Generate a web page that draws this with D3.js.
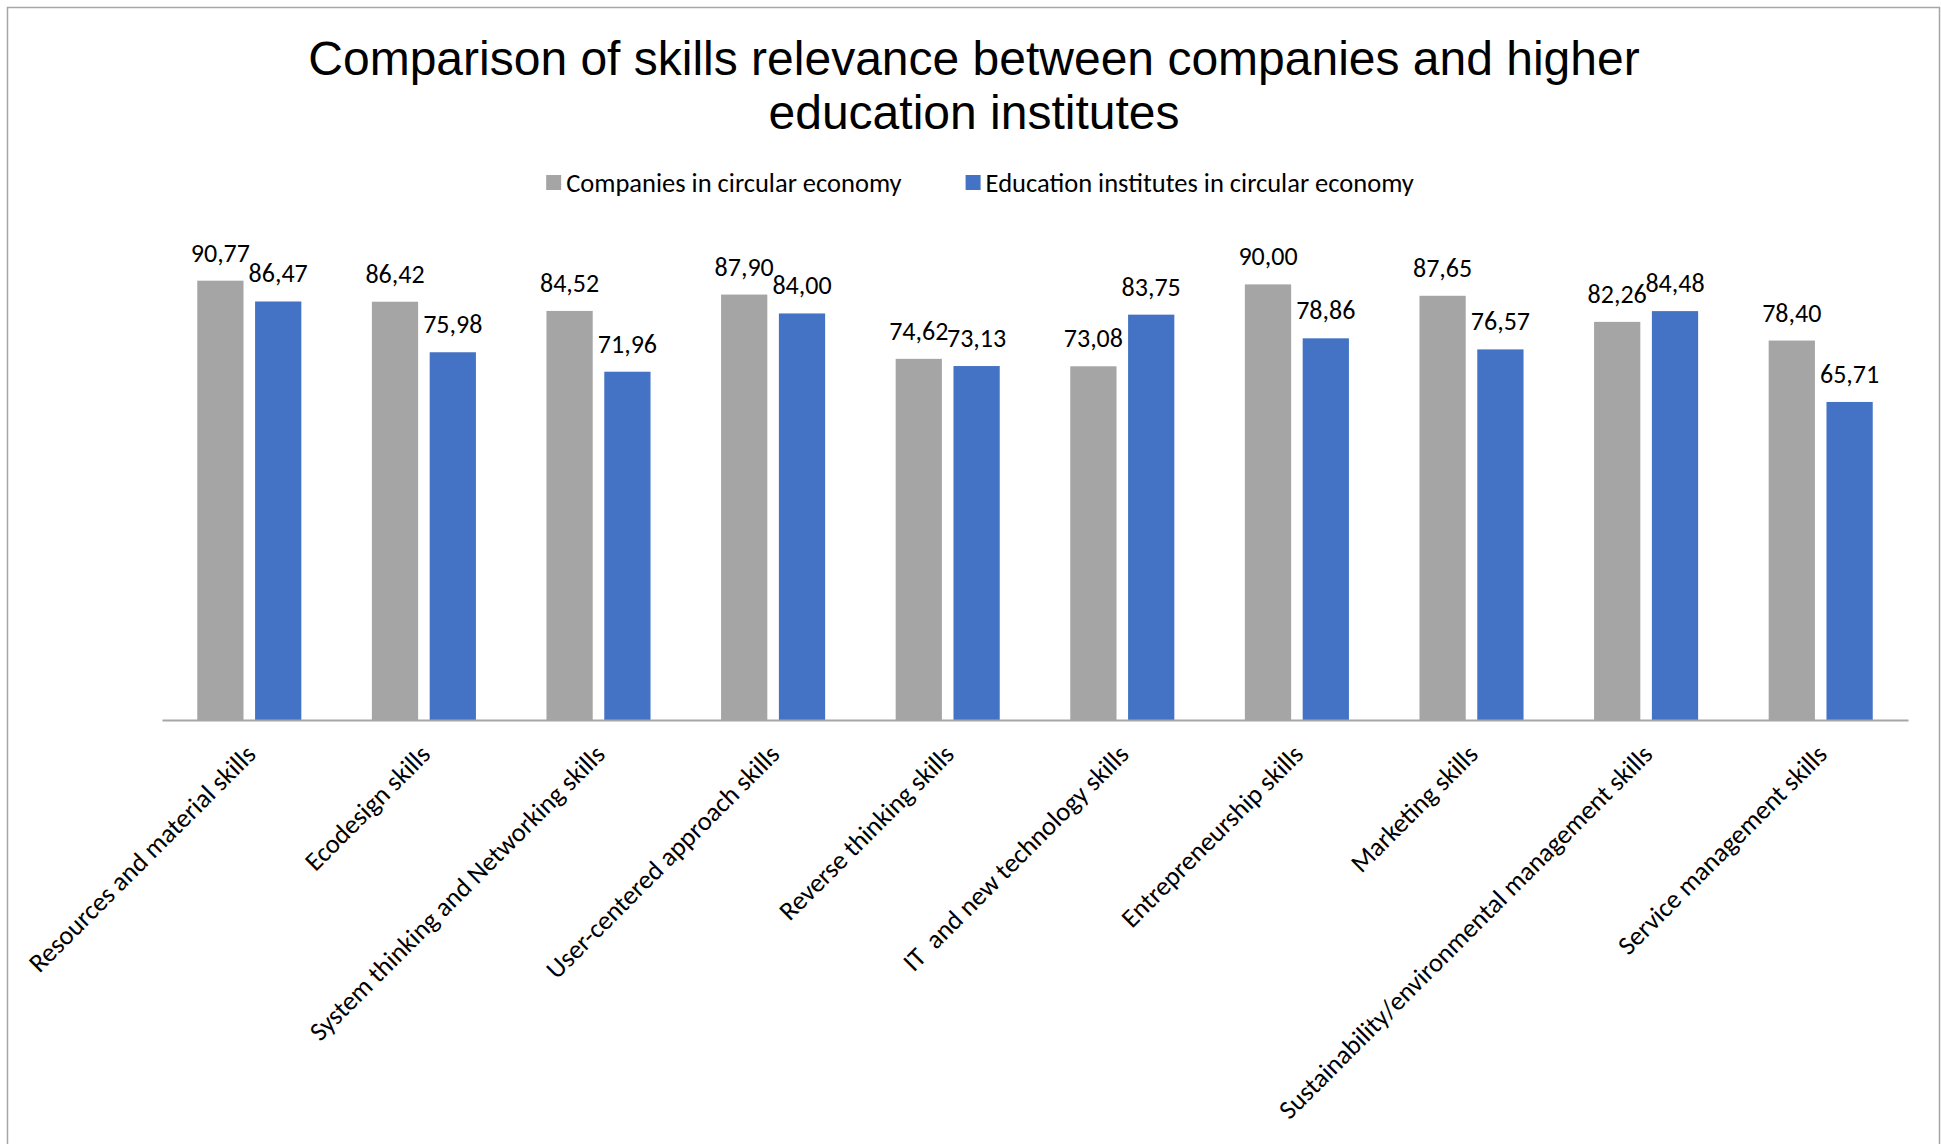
<!DOCTYPE html>
<html>
<head>
<meta charset="utf-8">
<script src="https://cdn.jsdelivr.net/npm/d3@7"></script>
<style>
  body { margin: 0; background: #fff; }
  svg { display: block; }
</style>
</head>
<body>
<svg id="chart" width="1941" height="1144"></svg>
<script>
var categories = [
  "Resources and material skills",
  "Ecodesign skills",
  "System thinking and Networking skills",
  "User-centered approach skills",
  "Reverse thinking skills",
  "IT  and new technology skills",
  "Entrepreneurship skills",
  "Marketing skills",
  "Sustainability/environmental management skills",
  "Service management skills"
];
var series_names = ["Companies in circular economy", "Education institutes in circular economy"];
var companies = [90.77, 86.42, 84.52, 87.90, 74.62, 73.08, 90.00, 87.65, 82.26, 78.40];
var institutes = [86.47, 75.98, 71.96, 84.00, 73.13, 83.75, 78.86, 76.57, 84.48, 65.71];
var colors = ["#a5a5a5", "#4472c4"];

var width = 1941, height = 1144;
var left = 162, right = 1908, top_y = 236, base_y = 720;
var label_font = "Carlito, Lato, Calibri, sans-serif";

var svg = d3.select("#chart");

// chart border
svg.append("path")
  .attr("d", "M7.5," + height + "V7.5H1939.5V" + height)
  .attr("fill", "none")
  .attr("stroke", "#a6a6a6")
  .attr("stroke-width", 1.5);

// title
var title = svg.append("text")
  .attr("text-anchor", "middle")
  .style("font-family", "'Liberation Sans', Arial, sans-serif")
  .style("font-size", "48px")
  .attr("fill", "#000");
title.append("tspan").attr("x", 974).attr("y", 75).text("Comparison of skills relevance between companies and higher");
title.append("tspan").attr("x", 974).attr("y", 129).text("education institutes");

var rows = categories.map(function(c, i){
  return { name: c, values: [companies[i], institutes[i]] };
});

var x0 = d3.scaleBand()
  .domain(categories)
  .range([left, right])
  .padding(0);

var x1 = d3.scaleBand()
  .domain(d3.range(series_names.length))
  .range([x0.bandwidth() * 0.202, x0.bandwidth() * 0.798])
  .paddingInner(0.2);

var y = d3.scaleLinear()
  .domain([0, 100])
  .range([base_y, top_y]);

var fmt = d3.formatLocale({ decimal: ",", thousands: ".", grouping: [3], currency: ["", ""] }).format(".2f");

var groups = svg.selectAll(".group")
  .data(rows)
  .enter()
  .append("g")
  .attr("class", "group")
  .attr("transform", function(d){ return "translate(" + x0(d.name) + ",0)"; });

groups.selectAll("rect")
  .data(function(d){ return d.values; })
  .enter()
  .append("rect")
  .attr("x", function(d, i){ return x1(i); })
  .attr("y", function(d){ return y(d); })
  .attr("width", x1.bandwidth())
  .attr("height", function(d){ return base_y - y(d); })
  .attr("fill", function(d, i){ return colors[i]; });

groups.selectAll("text.val")
  .data(function(d){ return d.values; })
  .enter()
  .append("text")
  .attr("class", "val")
  .attr("x", function(d, i){ return x1(i) + x1.bandwidth() / 2; })
  .attr("y", function(d){ return y(d) - 19; })
  .attr("text-anchor", "middle")
  .style("font-family", label_font)
  .style("font-size", "26px")
  .attr("fill", "#000")
  .text(function(d){ return fmt(d); });

// category axis
var axis = svg.append("g")
  .attr("transform", "translate(0," + base_y + ")")
  .call(d3.axisBottom(x0).tickSize(0).tickSizeOuter(0));

axis.select(".domain")
  .attr("stroke", "#a6a6a6")
  .attr("stroke-width", 2);

axis.selectAll(".tick text")
  .style("font-family", label_font)
  .style("font-size", "26.5px")
  .style("white-space", "pre")
  .attr("fill", "#000")
  .attr("text-anchor", "end")
  .attr("dy", null)
  .attr("y", null)
  .attr("transform", "translate(8,36) rotate(-45)");

// legend
var legend = svg.append("g").attr("class", "legend");
var items = legend.selectAll("g")
  .data(series_names)
  .enter()
  .append("g");
items.append("rect")
  .attr("width", 15)
  .attr("height", 15)
  .attr("y", -8)
  .attr("fill", function(d, i){ return colors[i]; });
items.append("text")
  .attr("x", 20)
  .attr("dy", "0.35em")
  .style("font-family", label_font)
  .style("font-size", "26.5px")
  .attr("fill", "#000")
  .text(function(d){ return d; });

var widths = [];
items.each(function(){ widths.push(this.getBBox().width); });
var gap = 64;
var total = d3.sum(widths) + gap;
var lx = 980 - total / 2;
items.attr("transform", function(d, i){
  var x = lx;
  lx += widths[i] + gap;
  return "translate(" + x + ",183)";
});
</script>
</body>
</html>
